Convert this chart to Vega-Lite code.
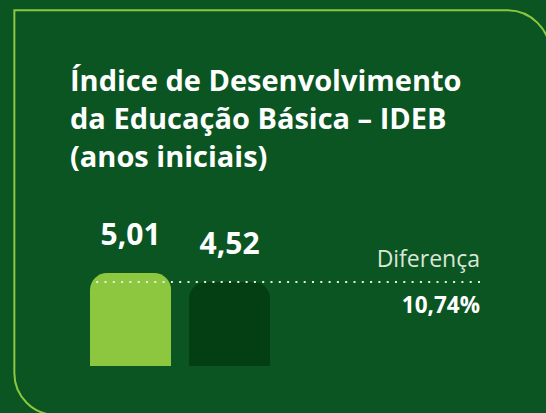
{
  "$schema": "https://vega.github.io/schema/vega-lite/v6.json",
  "width": 390,
  "height": 93,
  "padding": {"left": 90, "top": 273, "right": 66, "bottom": 47},
  "autosize": {"type": "none"},
  "background": "#0a5522",
  "config": {
    "view": {"stroke": null},
    "font": "Open Sans",
    "locale": {"number": {"decimal": ",", "thousands": ".", "grouping": [3], "currency": ["R$ ", ""]}}
  },
  "title": {
    "text": ["Índice de Desenvolvimento", "da Educação Básica – IDEB", "(anos iniciais)"],
    "anchor": "start",
    "frame": "group",
    "dx": -20,
    "offset": -164,
    "fontSize": 29,
    "fontWeight": "bold",
    "color": "#ffffff",
    "lineHeight": 38,
    "font": "Open Sans"
  },
  "datasets": {
    "ideb": [
      {"grupo": "A", "valor": 5.01},
      {"grupo": "B", "valor": 4.52}
    ],
    "diferenca": [
      {"rotulo": "Diferença", "valor": 0.1074}
    ]
  },
  "layer": [
    {
      "data": {"values": [{"elemento": "moldura"}]},
      "mark": {"type": "rect", "fill": "transparent", "stroke": "#8dc63f", "strokeWidth": 2, "cornerRadiusTopRight": 43, "cornerRadiusBottomLeft": 42},
      "encoding": {
        "x": {"datum": -0.194, "type": "quantitative", "scale": {"domain": [0, 1], "nice": false, "zero": false}, "axis": null},
        "x2": {"datum": 1.18},
        "y": {"datum": 3.825, "type": "quantitative", "scale": {"domain": [0, 1], "nice": false, "zero": false}, "axis": null},
        "y2": {"datum": -0.527}
      }
    },
    {
      "layer": [
        {
          "data": {"name": "ideb"},
          "mark": {"type": "bar", "cornerRadiusTopLeft": 17, "cornerRadiusTopRight": 17},
          "encoding": {
            "x": {"field": "grupo", "type": "nominal", "scale": {"domain": ["A", "B", "Diferença"], "paddingInner": 0.18, "paddingOuter": 0.56, "align": 0}, "axis": null},
            "y": {"field": "valor", "type": "quantitative", "scale": {"domain": [0, 5.01], "nice": false}, "axis": null},
            "color": {"field": "grupo", "type": "nominal", "scale": {"range": ["#8dc63f", "#033f12"]}, "legend": null}
          }
        },
        {
          "data": {"name": "ideb"},
          "mark": {"type": "text", "dy": -28, "baseline": "alphabetic", "fontSize": 30, "fontWeight": "bold", "color": "#ffffff", "font": "Open Sans"},
          "encoding": {
            "x": {"field": "grupo", "type": "nominal"},
            "y": {"field": "valor", "type": "quantitative"},
            "text": {"field": "valor", "type": "quantitative", "format": ".2f"}
          }
        },
        {
          "data": {"name": "ideb"},
          "mark": {"type": "rule", "strokeDash": [2, 6.3], "strokeWidth": 2, "color": "#e8f0e4"},
          "encoding": {
            "y": {"aggregate": "min", "field": "valor", "type": "quantitative"}
          }
        },
        {
          "data": {"name": "diferenca"},
          "mark": {"type": "text", "align": "right", "baseline": "alphabetic", "dy": -15, "fontSize": 23, "color": "#dce5d9", "font": "Open Sans"},
          "encoding": {
            "x": {"value": "width"},
            "y": {"datum": 4.52, "type": "quantitative"},
            "text": {"field": "rotulo", "type": "nominal"}
          }
        },
        {
          "data": {"name": "diferenca"},
          "mark": {"type": "text", "align": "right", "baseline": "alphabetic", "dy": 31, "fontSize": 22.5, "fontWeight": "bold", "color": "#ffffff", "font": "Open Sans"},
          "encoding": {
            "x": {"value": "width"},
            "y": {"datum": 4.52, "type": "quantitative"},
            "text": {"field": "valor", "type": "quantitative", "format": ".2%"}
          }
        }
      ]
    }
  ],
  "resolve": {"scale": {"x": "independent", "y": "independent"}}
}
